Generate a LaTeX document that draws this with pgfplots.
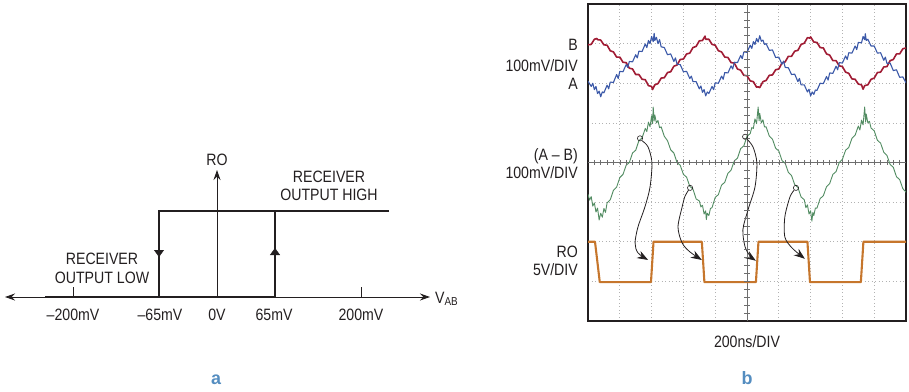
\documentclass[border=0pt]{standalone}
\usepackage{fontspec}
\setmainfont{Liberation Sans}[FakeStretch=0.86]
\newfontfamily\panelfont{Liberation Sans}
\usepackage{pgfplots}
\pgfplotsset{compat=1.18}
\usetikzlibrary{arrows.meta}
\definecolor{ink}{RGB}{35,31,32}
\definecolor{traceB}{RGB}{160,28,52}
\definecolor{traceA}{RGB}{58,88,168}
\definecolor{traceD}{RGB}{82,140,98}
\definecolor{traceRO}{RGB}{198,118,44}
\definecolor{panel}{RGB}{84,141,192}
\definecolor{crossh}{RGB}{110,110,110}
\begin{document}
\begin{tikzpicture}[x=1bp,y=1bp,font=\fontsize{16.5}{19}\selectfont, every node/.style={text=ink, inner sep=0pt}]
\useasboundingbox (0,0) rectangle (909,391);
% ---------------- panel a ----------------
\begin{axis}[at={(5bp,94bp)}, anchor=south west, scale only axis,
  width=425bp, height=127bp, xmin=-212, xmax=213, ymin=0, ymax=127,
  hide axis, clip=false]
\draw[ink, line width=0.9bp, {Stealth[length=10bp,width=7bp]}-{Stealth[length=10bp,width=7bp]}] (axis cs:-212,0) -- (axis cs:213,0);
\draw[ink, line width=0.9bp, -{Stealth[length=10bp,width=7bp]}] (axis cs:0,0) -- (axis cs:0,127);
\draw[ink, line width=0.9bp] (axis cs:-144,0) -- (axis cs:-144,10);
\draw[ink, line width=0.9bp] (axis cs:144,0) -- (axis cs:144,10);
\addplot[ink, line width=2.8bp, line join=miter] coordinates {(-172,0) (58,0) (58,86)};
\addplot[ink, line width=2.8bp, line join=miter] coordinates {(172,86) (-58,86) (-58,0)};
\addplot[ink, line width=2.8bp, -{Triangle[length=7bp,width=10bp,line width=0.3bp]}] coordinates {(-58,60) (-58,40)};
\addplot[ink, line width=2.8bp, -{Triangle[length=7bp,width=10bp,line width=0.3bp]}] coordinates {(58,25) (58,49)};
\end{axis}
% ---------------- panel b ----------------
\begin{axis}[at={(588bp,70bp)}, anchor=south west, scale only axis,
  width=318bp, height=317bp, xmin=0, xmax=10, ymin=0, ymax=8,
  xtick={1,...,9}, ytick={1,...,7}, xticklabels={}, yticklabels={},
  major tick length=0pt, grid=major,
  major grid style={gray!60, line width=0.7bp, dash pattern=on 0.9bp off 2.6bp},
  axis line style={line width=1.4bp, ink}]
\draw[crossh, line width=0.8bp] (axis cs:5,0) -- (axis cs:5,8);
\draw[crossh, line width=0.8bp] (axis cs:0,4) -- (axis cs:10,4);
\addplot[only marks, mark=|, mark size=2.6bp, mark options={crossh, line width=0.6bp}] coordinates {
(0.2,4) (0.4,4) (0.6,4) (0.8,4) (1,4) (1.2,4) (1.4,4) (1.6,4) (1.8,4) (2,4) (2.2,4) (2.4,4) (2.6,4) (2.8,4) (3,4) (3.2,4) (3.4,4) (3.6,4) (3.8,4) (4,4) (4.2,4) (4.4,4) (4.6,4) (4.8,4) (5.2,4) (5.4,4) (5.6,4) (5.8,4) (6,4) (6.2,4) (6.4,4) (6.6,4) (6.8,4) (7,4) (7.2,4) (7.4,4) (7.6,4) (7.8,4) (8,4) (8.2,4) (8.4,4) (8.6,4) (8.8,4) (9,4) (9.2,4) (9.4,4) (9.6,4) (9.8,4)};
\addplot[only marks, mark=-, mark size=2.6bp, mark options={crossh, line width=0.6bp}] coordinates {
(5,0.2) (5,0.4) (5,0.6) (5,0.8) (5,1) (5,1.2) (5,1.4) (5,1.6) (5,1.8) (5,2) (5,2.2) (5,2.4) (5,2.6) (5,2.8) (5,3) (5,3.2) (5,3.4) (5,3.6) (5,3.8) (5,4.2) (5,4.4) (5,4.6) (5,4.8) (5,5) (5,5.2) (5,5.4) (5,5.6) (5,5.8) (5,6) (5,6.2) (5,6.4) (5,6.6) (5,6.8) (5,7) (5,7.2) (5,7.4) (5,7.6) (5,7.8)};
% B (red)
\addplot[traceB, line width=1.6bp, line join=round] coordinates {
(0.0,6.97) (0.1,6.98) (0.2,7.11) (0.28,7.13) (0.3,7.10) (0.4,7.09) (0.5,6.97) (0.6,6.96) (0.7,6.82) (0.8,6.79) (0.9,6.66) (1.0,6.66) (1.1,6.53) (1.2,6.52) (1.3,6.38) (1.4,6.36) (1.5,6.22) (1.6,6.22) (1.7,6.10) (1.8,6.09) (1.9,5.94) (2.0,5.92) (2.03,5.84) (2.1,5.96) (2.2,5.99) (2.3,6.13) (2.4,6.14) (2.5,6.27) (2.6,6.29) (2.7,6.43) (2.8,6.46) (2.9,6.60) (3.0,6.61) (3.1,6.74) (3.2,6.76) (3.3,6.90) (3.4,6.93) (3.5,7.07) (3.6,7.08) (3.68,7.19) (3.7,7.11) (3.8,7.11) (3.9,6.98) (4.0,6.96) (4.1,6.82) (4.2,6.79) (4.3,6.66) (4.4,6.65) (4.5,6.52) (4.6,6.51) (4.7,6.36) (4.8,6.33) (4.9,6.20) (5.0,6.19) (5.1,6.06) (5.2,6.04) (5.3,5.90) (5.35,5.91) (5.4,5.89) (5.5,6.04) (5.6,6.07) (5.7,6.20) (5.8,6.21) (5.9,6.34) (6.0,6.36) (6.1,6.51) (6.2,6.54) (6.3,6.68) (6.4,6.68) (6.5,6.81) (6.6,6.83) (6.7,6.98) (6.8,7.01) (6.9,7.15) (6.98,7.14) (7.0,7.17) (7.1,7.04) (7.2,7.03) (7.3,6.90) (7.4,6.89) (7.5,6.74) (7.6,6.71) (7.7,6.57) (7.8,6.57) (7.9,6.44) (8.0,6.42) (8.1,6.28) (8.2,6.25) (8.3,6.11) (8.4,6.10) (8.5,5.98) (8.6,5.96) (8.65,5.85) (8.7,5.94) (8.8,5.96) (8.9,6.10) (9.0,6.13) (9.1,6.27) (9.2,6.28) (9.3,6.41) (9.4,6.42) (9.5,6.57) (9.6,6.60) (9.7,6.74) (9.8,6.74) (9.9,6.87) (10.0,6.89)};
% A (blue)
\addplot[traceA, line width=1.1bp, line join=round] coordinates {
(0.0,6.05) (0.1,5.92) (0.15,6.00) (0.2,5.84) (0.25,5.92) (0.3,5.74) (0.35,5.80) (0.4,5.66) (0.45,5.78) (0.5,5.76) (0.6,5.95) (0.65,5.86) (0.7,6.03) (0.8,6.02) (0.9,6.22) (0.95,6.12) (1.0,6.30) (1.1,6.29) (1.2,6.47) (1.25,6.40) (1.3,6.55) (1.4,6.54) (1.5,6.72) (1.55,6.64) (1.6,6.81) (1.7,6.80) (1.8,6.99) (1.85,6.90) (1.9,7.08) (1.95,7.00) (2.0,7.18) (2.05,7.05) (2.08,7.26) (2.1,7.08) (2.15,7.16) (2.2,7.00) (2.25,7.10) (2.3,6.92) (2.4,6.90) (2.5,6.72) (2.6,6.74) (2.7,6.55) (2.75,6.64) (2.8,6.48) (2.9,6.47) (3.0,6.29) (3.1,6.30) (3.2,6.12) (3.25,6.18) (3.3,6.04) (3.4,6.04) (3.5,5.86) (3.55,5.93) (3.6,5.77) (3.65,5.84) (3.7,5.68) (3.75,5.78) (3.8,5.74) (3.9,5.92) (3.95,5.84) (4.0,6.01) (4.1,6.00) (4.2,6.18) (4.25,6.10) (4.3,6.27) (4.4,6.26) (4.5,6.44) (4.55,6.36) (4.6,6.53) (4.7,6.52) (4.8,6.70) (4.85,6.62) (4.9,6.79) (5.0,6.78) (5.1,6.96) (5.15,6.88) (5.2,7.05) (5.25,6.98) (5.3,7.13) (5.35,7.04) (5.4,7.20) (5.45,7.06) (5.5,7.09) (5.55,6.98) (5.6,7.00) (5.7,6.83) (5.8,6.84) (5.9,6.65) (6.0,6.66) (6.1,6.48) (6.15,6.56) (6.2,6.40) (6.3,6.39) (6.4,6.22) (6.5,6.23) (6.6,6.04) (6.65,6.12) (6.7,5.96) (6.8,5.96) (6.9,5.78) (6.95,5.85) (7.0,5.68) (7.05,5.78) (7.1,5.72) (7.15,5.83) (7.2,5.82) (7.3,6.00) (7.4,5.99) (7.5,6.17) (7.55,6.08) (7.6,6.26) (7.7,6.25) (7.8,6.43) (7.85,6.34) (7.9,6.52) (8.0,6.51) (8.1,6.69) (8.15,6.60) (8.2,6.77) (8.3,6.76) (8.4,6.94) (8.45,6.85) (8.5,7.03) (8.6,7.02) (8.65,7.18) (8.7,7.10) (8.72,7.25) (8.75,7.08) (8.8,7.11) (8.9,6.94) (9.0,6.94) (9.1,6.76) (9.2,6.77) (9.3,6.58) (9.35,6.66) (9.4,6.50) (9.5,6.51) (9.6,6.32) (9.7,6.34) (9.8,6.15) (9.9,6.16) (10.0,6.01)};
% A - B (green)
\addplot[traceD, line width=0.9bp, line join=round] coordinates {
(0.0,3.20) (0.05,3.05) (0.1,3.14) (0.15,2.90) (0.2,2.98) (0.25,2.75) (0.3,2.85) (0.35,2.55) (0.4,2.72) (0.45,2.62) (0.5,2.84) (0.55,2.74) (0.6,2.98) (0.7,3.06) (0.8,3.30) (0.9,3.38) (1.0,3.62) (1.1,3.70) (1.2,3.93) (1.3,4.00) (1.4,4.24) (1.5,4.31) (1.6,4.55) (1.7,4.62) (1.8,4.86) (1.85,4.78) (1.9,5.02) (1.95,4.90) (2.0,5.18) (2.03,4.98) (2.05,5.40) (2.08,5.05) (2.1,5.20) (2.15,5.00) (2.2,5.06) (2.25,4.88) (2.3,4.90) (2.4,4.66) (2.5,4.55) (2.6,4.32) (2.7,4.24) (2.8,4.00) (2.9,3.93) (3.0,3.70) (3.1,3.63) (3.2,3.40) (3.3,3.33) (3.4,3.08) (3.5,3.03) (3.55,2.88) (3.6,2.92) (3.65,2.70) (3.7,2.78) (3.72,2.56) (3.75,2.72) (3.8,2.66) (3.85,2.84) (3.9,2.86) (4.0,3.12) (4.1,3.19) (4.2,3.43) (4.3,3.50) (4.4,3.73) (4.5,3.81) (4.6,4.04) (4.7,4.11) (4.8,4.35) (4.9,4.42) (5.0,4.66) (5.1,4.73) (5.15,4.88) (5.2,4.86) (5.25,5.10) (5.3,4.98) (5.35,5.40) (5.38,5.05) (5.4,5.24) (5.45,5.00) (5.5,5.08) (5.55,4.90) (5.6,4.90) (5.7,4.67) (5.8,4.59) (5.9,4.36) (6.0,4.29) (6.1,4.05) (6.2,3.98) (6.3,3.75) (6.4,3.67) (6.5,3.44) (6.6,3.37) (6.7,3.13) (6.8,3.06) (6.85,2.86) (6.9,2.93) (6.95,2.70) (7.0,2.78) (7.04,2.52) (7.07,2.74) (7.1,2.66) (7.15,2.85) (7.2,2.85) (7.3,3.09) (7.4,3.16) (7.5,3.39) (7.6,3.47) (7.7,3.70) (7.8,3.77) (7.9,4.00) (8.0,4.08) (8.1,4.31) (8.2,4.38) (8.3,4.61) (8.4,4.69) (8.5,4.92) (8.55,4.82) (8.6,5.07) (8.65,4.95) (8.7,5.40) (8.73,5.02) (8.75,5.22) (8.8,5.00) (8.85,5.04) (8.9,4.87) (9.0,4.80) (9.1,4.56) (9.2,4.49) (9.3,4.26) (9.4,4.18) (9.5,3.95) (9.6,3.88) (9.7,3.64) (9.8,3.57) (9.9,3.34) (10.0,3.25)};
% RO (orange)
\addplot[traceRO, line width=2.1bp, line join=round] coordinates {
(0,2.0) (0.22,2.0) (0.37,0.98) (1.98,0.98) (2.06,2.0) (3.58,2.0) (3.66,0.98) (5.28,0.98) (5.36,2.0) (6.90,2.0) (6.98,0.98) (8.58,0.98) (8.66,2.0) (10,2.0)};
% threshold circles
\addplot[only marks, mark=o, mark size=2.6bp, mark options={ink, line width=0.6bp}] coordinates {(1.635,4.61) (3.21,3.36) (4.94,4.65) (6.54,3.36)};
% arrows
\addplot[ink, line width=0.8bp, smooth, -{Stealth[length=11bp,width=8bp]}] coordinates {(1.70,4.55) (1.89,4.39) (2.01,3.99) (1.95,3.38) (1.79,2.88) (1.57,2.37) (1.48,1.97) (1.57,1.72) (1.89,1.54)};
\addplot[ink, line width=0.8bp, smooth, -{Stealth[length=11bp,width=8bp]}] coordinates {(3.16,3.30) (3.05,3.15) (2.96,2.88) (2.83,2.37) (2.96,1.97) (3.21,1.74) (3.58,1.54)};
\addplot[ink, line width=0.8bp, smooth, -{Stealth[length=11bp,width=8bp]}] coordinates {(5.00,4.59) (5.19,4.39) (5.31,3.99) (5.25,3.38) (5.03,2.80) (4.87,2.30) (4.94,1.87) (5.10,1.64) (5.28,1.52)};
\addplot[ink, line width=0.8bp, smooth, -{Stealth[length=11bp,width=8bp]}] coordinates {(6.48,3.30) (6.35,3.13) (6.19,2.63) (6.19,2.12) (6.42,1.84) (6.82,1.57)};
\end{axis}
% ---------------- texts panel a ----------------
\node[anchor=base] at (217,226) {RO};
\node[anchor=base] at (329,209) {RECEIVER};
\node[anchor=base] at (329,191) {OUTPUT HIGH};
\node[anchor=base] at (102,127) {RECEIVER};
\node[anchor=base] at (102,108) {OUTPUT LOW};
\node[anchor=base] at (73,71) {–200mV};
\node[anchor=base] at (160,71) {–65mV};
\node[anchor=base] at (217,71) {0V};
\node[anchor=base] at (274,71) {65mV};
\node[anchor=base] at (361,71) {200mV};
\node[anchor=base west] at (435,88) {V\textsubscript{AB}};
% ---------------- texts panel b ----------------
\node[anchor=base east] at (578,341) {B};
\node[anchor=base east] at (578,320) {100mV/DIV};
\node[anchor=base east] at (578,302) {A};
\node[anchor=base east] at (578,231) {(A – B)};
\node[anchor=base east] at (578,213) {100mV/DIV};
\node[anchor=base east] at (578,134) {RO};
\node[anchor=base east] at (578,116) {5V/DIV};
\node[anchor=base] at (747,44) {200ns/DIV};
% panel letters
\node[anchor=base, text=panel, font=\panelfont\bfseries\fontsize{18}{20}\selectfont] at (216,7) {a};
\node[anchor=base, text=panel, font=\panelfont\bfseries\fontsize{18}{20}\selectfont] at (747,7) {b};
\end{tikzpicture}
\end{document}
